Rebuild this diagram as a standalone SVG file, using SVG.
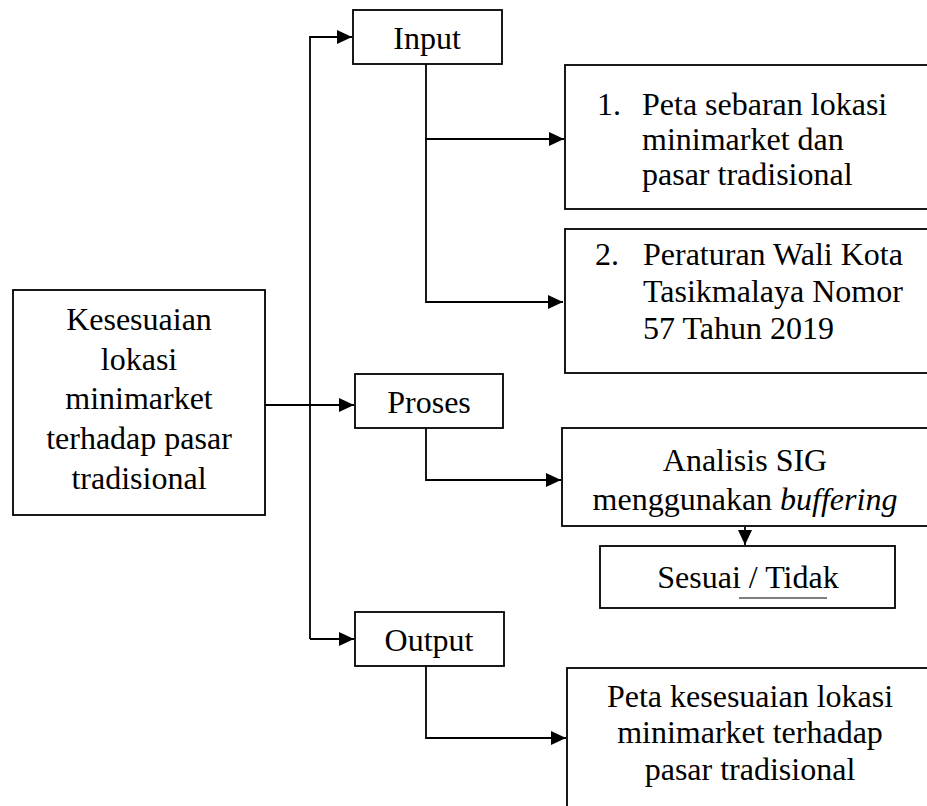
<svg xmlns="http://www.w3.org/2000/svg" width="927" height="806" viewBox="0 0 927 806">
<style>
.box{fill:#fff;stroke:#000;stroke-width:1.8}
.t{font-family:"Liberation Serif","Times New Roman",serif;font-size:32px;fill:#000}
.c{text-anchor:middle}
.ln{fill:none;stroke:#000;stroke-width:1.8}
</style>
<defs>
<marker id="ah" markerUnits="userSpaceOnUse" markerWidth="16" markerHeight="14" refX="15" refY="7" orient="auto">
<path d="M0,0 L15,7 L0,14 z" fill="#000"/>
</marker>
</defs>
<rect width="927" height="806" fill="#fff"/>
<g id="connectors">
<path class="ln" d="M265,405 H354" marker-end="url(#ah)"/>
<path class="ln" d="M310,639 V37 H352" marker-end="url(#ah)"/>
<path class="ln" d="M310,639 H354" marker-end="url(#ah)"/>
<path class="ln" d="M426,64 V139 H564" marker-end="url(#ah)"/>
<path class="ln" d="M426,139 V302 H563" marker-end="url(#ah)"/>
<path class="ln" d="M426,428 V480 H561" marker-end="url(#ah)"/>
<path class="ln" d="M745,527 V545" marker-end="url(#ah)"/>
<path class="ln" d="M426,666 V738 H566" marker-end="url(#ah)"/>
</g>
<g id="main">
<rect class="box" x="13" y="290" width="252" height="225"/>
<text class="t c" x="139" y="330">Kesesuaian</text>
<text class="t c" x="139" y="370">lokasi</text>
<text class="t c" x="139" y="409">minimarket</text>
<text class="t c" x="139" y="449">terhadap pasar</text>
<text class="t c" x="139" y="489">tradisional</text>
</g>
<g id="input">
<rect class="box" x="353" y="10" width="149" height="54"/>
<text class="t c" x="427" y="49">Input</text>
</g>
<g id="proses">
<rect class="box" x="355" y="374" width="148" height="54"/>
<text class="t c" x="429" y="413">Proses</text>
</g>
<g id="output">
<rect class="box" x="355" y="612" width="149" height="54"/>
<text class="t c" x="429" y="651">Output</text>
</g>
<g id="input1">
<rect class="box" x="565" y="65" width="400" height="144"/>
<text class="t" x="597" y="115">1.</text>
<text class="t" x="642" y="115">Peta sebaran lokasi</text>
<text class="t" x="642" y="150">minimarket dan</text>
<text class="t" x="642" y="185">pasar tradisional</text>
</g>
<g id="input2">
<rect class="box" x="565" y="229" width="400" height="144"/>
<text class="t" x="595" y="265">2.</text>
<text class="t" x="643" y="265">Peraturan Wali Kota</text>
<text class="t" x="643" y="302">Tasikmalaya Nomor</text>
<text class="t" x="643" y="339">57 Tahun 2019</text>
</g>
<g id="analisis">
<rect class="box" x="562" y="428" width="400" height="98"/>
<text class="t c" x="745" y="471">Analisis SIG</text>
<text class="t c" x="745" y="510">menggunakan <tspan font-style="italic">buffering</tspan></text>
</g>
<g id="sesuai">
<rect class="box" x="600" y="546" width="295" height="62"/>
<text class="t c" x="748" y="588">Sesuai / Tidak</text>
<line x1="739" y1="598" x2="827" y2="598" stroke="#555" stroke-width="1.5"/>
</g>
<g id="hasil">
<rect class="box" x="567" y="668" width="400" height="160"/>
<text class="t c" x="750" y="707">Peta kesesuaian lokasi</text>
<text class="t c" x="750" y="743">minimarket terhadap</text>
<text class="t c" x="750" y="780">pasar tradisional</text>
</g>
</svg>
